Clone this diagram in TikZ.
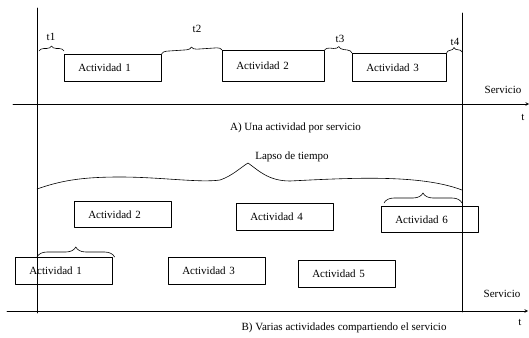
\documentclass[tikz,border=0pt]{standalone}
\usepackage{fontspec}
\setmainfont{Liberation Serif}
\usetikzlibrary{decorations.pathreplacing}
\begin{document}
\begin{tikzpicture}[x=1pt, y=-1pt, line join=round, line cap=round, >=stealth,
    font=\fontsize{11}{13}\selectfont, line width=0.6pt,
    actbox/.style={draw, anchor=north west, inner xsep=14pt, inner ysep=0pt,
        text width=69pt, align=left, minimum height=27pt},
    tbrace/.style={decorate, decoration={brace, amplitude=5pt}},
    bbrace/.style={decorate, decoration={brace, amplitude=10pt}}]
    \useasboundingbox (0,0) rectangle (529,337);
    % ejes
    \coordinate (lt) at (37,8);
    \coordinate (lb) at (37,313);
    \coordinate (rt) at (462,13);
    \coordinate (rb) at (462,312);
    \coordinate (ax0) at (13,104);
    \coordinate (ax1) at (529,104);
    \coordinate (bx0) at (7,311);
    \coordinate (bx1) at (528,311);
    \draw (lt) -- (lb);
    \draw (rt) -- (rb);
    \draw[->] (ax0) -- (ax1);
    \draw[->] (bx0) -- (bx1);
    \node (servA) at (503,90) {Servicio};
    \node (tA) at (523,117) {t};
    \node (servB) at (502,294) {Servicio};
    \node (tB) at (520,322) {t};
    \node (capA) at (295.5,128) {A) Una actividad por servicio};
    \node (capB) at (344,328) {B) Varias actividades compartiendo el servicio};
    % A) una actividad por servicio
    \node[actbox] (act1) at (64,54) {Actividad 1};
    \node[actbox, text width=74pt, minimum height=31pt] (act2) at (222,50) {Actividad 2};
    \node[actbox, text width=66pt, minimum height=28pt] (act3) at (352,53) {Actividad 3};
    \coordinate (t1s) at (39,51);
    \coordinate (t4e) at (462,52);
    \draw[tbrace] (t1s) -- ([yshift=3pt]act1.north west);
    \draw[tbrace] (act1.north east) -- (act2.north west);
    \draw[tbrace] (act2.north east) -- (act3.north west);
    \draw[tbrace] (act3.north east) -- (t4e);
    \node (t1) at (51,37) {t1};
    \node (t2) at (197,29) {t2};
    \node (t3) at (340,39) {t3};
    \node (t4) at (455,42) {t4};
    % B) varias actividades compartiendo el servicio
    \node[actbox, minimum height=26pt] (bct2) at (74,201) {Actividad 2};
    \node[actbox] (bct4) at (236,203) {Actividad 4};
    \node[actbox, minimum height=26pt] (bct6) at (381,206) {Actividad 6};
    \node[actbox] (bct1) at (15,257) {Actividad 1};
    \node[actbox] (bct3) at (168,257) {Actividad 3};
    \node[actbox] (bct5) at (298,260) {Actividad 5};
    \coordinate (l1) at (37,257);
    \coordinate (l6) at (462,203);
    \draw[bbrace] (l1) -- ([xshift=2pt]bct1.north east);
    \draw[bbrace] ([shift={(3,-3)}]bct6.north west) -- (l6);
    \coordinate (lapso0) at (37,189);
    \coordinate (lapso1) at (462,190);
    \draw (lapso0) .. controls (60,181) and (80,177) .. (120,177)
        .. controls (160,177) and (200,183) .. (220,180)
        .. controls (232,176) and (240,168) .. (248,163)
        .. controls (258,170) and (268,181) .. (290,181)
        .. controls (350,178) and (420,174) .. (lapso1);
    \node (lapso) at (292,157) {Lapso de tiempo};
\end{tikzpicture}
\end{document}
